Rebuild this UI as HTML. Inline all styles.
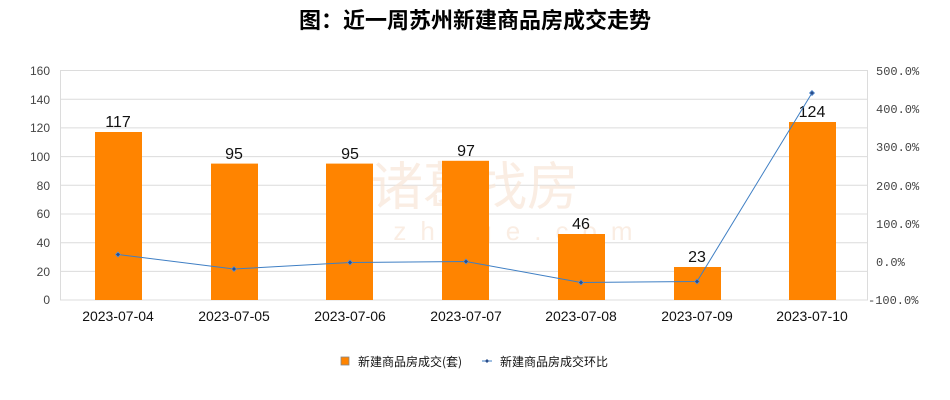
<!DOCTYPE html>
<html><head><meta charset="utf-8"><style>
body{margin:0;background:#fff}
svg{display:block;font-family:"Liberation Sans","Noto Sans CJK SC",sans-serif}
</style></head><body>
<svg width="950" height="400" xmlns="http://www.w3.org/2000/svg">
<rect width="950" height="400" fill="#fff"/>
<text x="475" y="28" text-anchor="middle" font-size="22" font-weight="bold" fill="#000" font-family="'Noto Sans CJK SC',sans-serif">图：近一周苏州新建商品房成交走势</text>
<g stroke="#dcdcdc" stroke-width="1">
<line x1="60" y1="70.5" x2="868" y2="70.5"/>
<line x1="60" y1="99.2" x2="868" y2="99.2"/>
<line x1="60" y1="127.9" x2="868" y2="127.9"/>
<line x1="60" y1="156.6" x2="868" y2="156.6"/>
<line x1="60" y1="185.3" x2="868" y2="185.3"/>
<line x1="60" y1="214" x2="868" y2="214"/>
<line x1="60" y1="242.7" x2="868" y2="242.7"/>
<line x1="60" y1="271.4" x2="868" y2="271.4"/>
<line x1="60" y1="300" x2="868" y2="300"/>
<line x1="60.5" y1="70" x2="60.5" y2="300"/>
<line x1="867.5" y1="70" x2="867.5" y2="300"/>
</g>
<g font-size="12" fill="#444" text-anchor="end">
<text x="50" y="75">160</text><text x="50" y="104">140</text><text x="50" y="132">120</text>
<text x="50" y="161">100</text><text x="50" y="190">80</text><text x="50" y="218">60</text>
<text x="50" y="247">40</text><text x="50" y="276">20</text><text x="50" y="304">0</text>
</g>
<g font-size="12" fill="#444" font-family="'Liberation Mono',monospace">
<text x="876" y="75">500.0%</text><text x="876" y="113">400.0%</text><text x="876" y="151">300.0%</text>
<text x="876" y="190">200.0%</text><text x="876" y="228">100.0%</text><text x="876" y="266">  0.0%</text>
<text x="868" y="304">-100.0%</text>
</g>
<text x="475" y="205" text-anchor="middle" font-size="52" fill="#f8e6d8" opacity="0.7" font-family="'Noto Sans CJK SC',sans-serif">诸葛找房</text>
<text x="520" y="240" text-anchor="middle" font-size="26" letter-spacing="14" fill="#f8e6d8" opacity="0.7">zhuge.com</text>
<g fill="#ff8400">
<rect x="95" y="132" width="47" height="168"/>
<rect x="211" y="163.6" width="47" height="136.4"/>
<rect x="326" y="163.6" width="47" height="136.4"/>
<rect x="442" y="160.8" width="47" height="139.2"/>
<rect x="558" y="234" width="47" height="66"/>
<rect x="674" y="267" width="47" height="33"/>
<rect x="789" y="122" width="47" height="178"/>
</g>
<g font-size="16" fill="#111" text-anchor="middle">
<text x="118" y="127">117</text><text x="234" y="159">95</text><text x="350" y="159">95</text>
<text x="466" y="156">97</text><text x="581" y="229">46</text><text x="697" y="262">23</text>
<text x="812" y="117">124</text>
</g>
<polyline fill="none" stroke="#3f7fc4" stroke-width="1" points="118,254.5 234,269 350,262.5 466,261.5 581,282.5 697,281.5 812,93"/>
<g fill="#2a4d8a" stroke="#5a8fd0" stroke-width="0.8">
<path d="M118,252 l2.5,2.5 -2.5,2.5 -2.5,-2.5z"/><path d="M234,266.5 l2.5,2.5 -2.5,2.5 -2.5,-2.5z"/>
<path d="M350,260 l2.5,2.5 -2.5,2.5 -2.5,-2.5z"/><path d="M466,259 l2.5,2.5 -2.5,2.5 -2.5,-2.5z"/>
<path d="M581,280 l2.5,2.5 -2.5,2.5 -2.5,-2.5z"/><path d="M697,279 l2.5,2.5 -2.5,2.5 -2.5,-2.5z"/>
<path d="M812,90.5 l2.5,2.5 -2.5,2.5 -2.5,-2.5z"/>
</g>
<g font-size="14" fill="#111" text-anchor="middle">
<text x="118" y="321">2023-07-04</text><text x="234" y="321">2023-07-05</text><text x="350" y="321">2023-07-06</text>
<text x="466" y="321">2023-07-07</text><text x="581" y="321">2023-07-08</text><text x="697" y="321">2023-07-09</text>
<text x="812" y="321">2023-07-10</text>
</g>
<rect x="341" y="357" width="8" height="8" fill="#ff8400" stroke="#888" stroke-width="0.8"/>
<text x="358" y="366" font-size="12" fill="#111" font-family="'Noto Sans CJK SC',sans-serif">新建商品房成交(套)</text>
<line x1="482" y1="361" x2="492" y2="361" stroke="#3f7fc4"/>
<path d="M487,359 l2,2 -2,2 -2,-2z" fill="#2a4d8a"/>
<text x="500" y="366" font-size="12" fill="#111" font-family="'Noto Sans CJK SC',sans-serif">新建商品房成交环比</text>
</svg>
</body></html>
